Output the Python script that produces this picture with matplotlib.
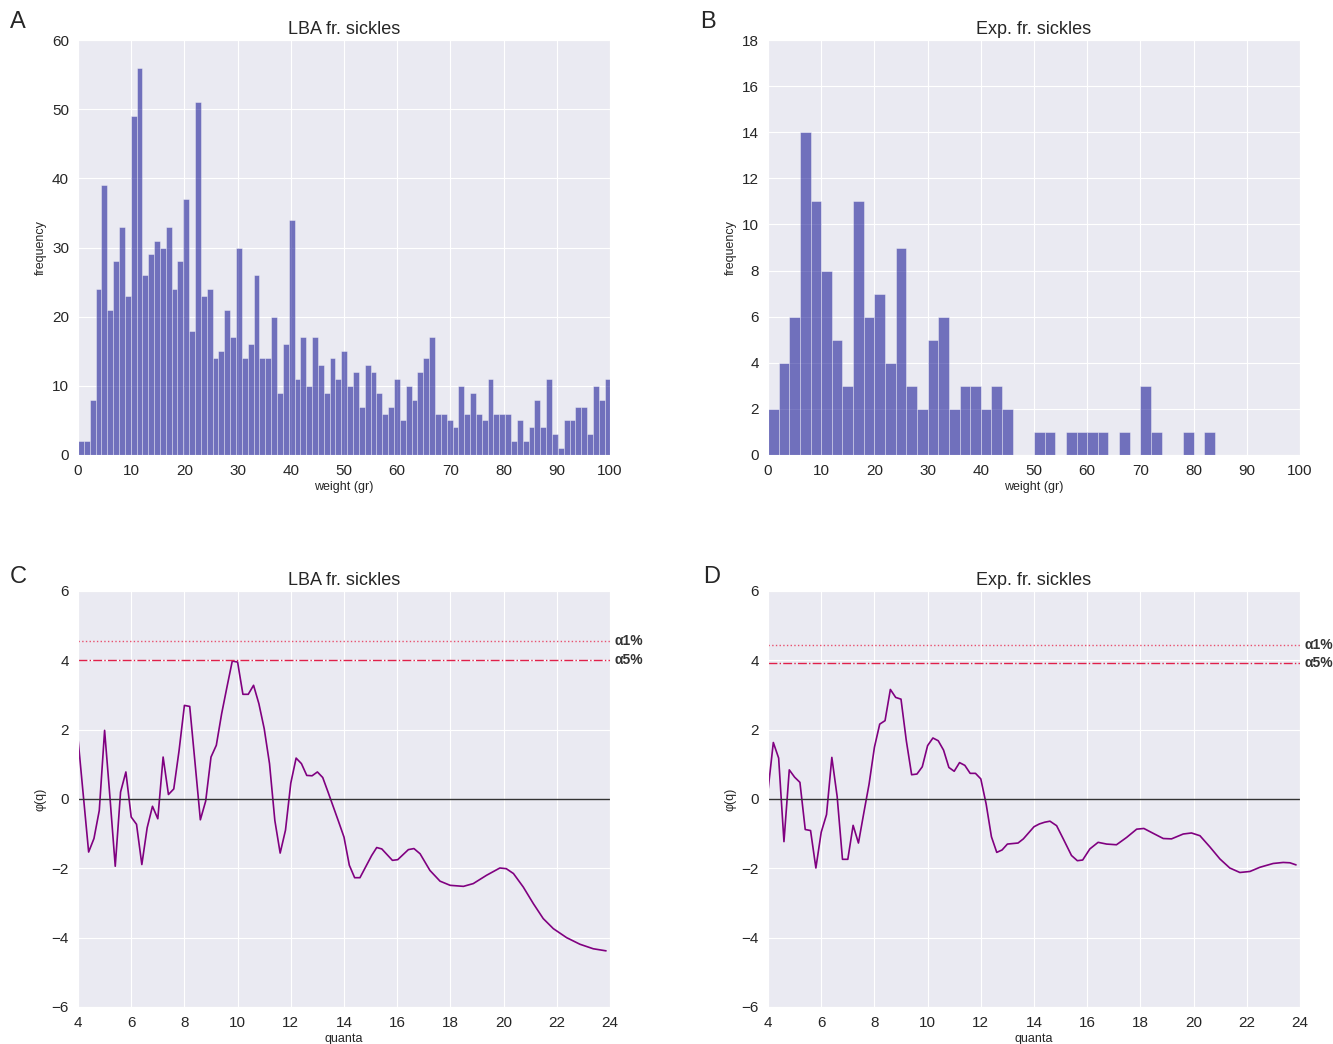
import matplotlib
matplotlib.use('Agg')
import matplotlib.pyplot as plt
import numpy as np
import seaborn as sns

sns.set_style('darkgrid')
plt.rcParams['font.family'] = ['Liberation Sans', 'DejaVu Sans']

# histogram counts, LBA fr. sickles (bin width 1.1 gr, starting at 0)
lba_bin_width = 1.1
lba_counts = [2, 2, 8, 24, 39, 21, 28, 33, 23, 49, 56, 26, 29, 31, 30, 33, 24, 28, 37, 18,
              51, 23, 24, 14, 15, 21, 17, 30, 14, 16, 26, 14, 14, 20, 9, 16, 34, 11, 17, 10,
              17, 13, 9, 14, 11, 15, 10, 12, 7, 13, 12, 9, 6, 7, 11, 5, 10, 8, 12, 14,
              17, 6, 6, 5, 4, 10, 6, 9, 6, 5, 11, 6, 6, 6, 2, 5, 2, 4, 8, 4,
              11, 3, 1, 5, 5, 7, 7, 3, 10, 8, 11]

# histogram counts, experimental fr. sickles (bin width 2 gr)
exp_bin_width = 2
exp_counts = [2, 4, 6, 14, 11, 8, 5, 3, 11, 6, 7, 4, 9, 3, 2, 5, 6, 2, 3, 3,
              2, 3, 2, 0, 0, 1, 1, 0, 1, 1, 1, 1, 0, 1, 0, 3, 1, 0, 0, 1, 0, 1]

# quantum analysis, LBA
lba_q = [4.0, 4.2, 4.4, 4.6, 4.8, 5.0, 5.2, 5.4, 5.6, 5.8, 6.0, 6.2, 6.4, 6.6, 6.8, 7.0,
         7.2, 7.4, 7.6, 7.8, 8.0, 8.2, 8.4, 8.6, 8.8, 9.0, 9.2, 9.4, 9.6, 9.8, 10.0, 10.2,
         10.4, 10.6, 10.8, 11.0, 11.2, 11.4, 11.6, 11.8, 12.0, 12.2, 12.4, 12.6, 12.8, 13.0,
         13.2, 13.4, 13.6, 13.8, 14.0, 14.2, 14.4, 14.6, 15.04, 15.23, 15.42, 15.82, 16.02,
         16.42, 16.63, 16.86, 17.23, 17.61, 17.99, 18.49, 18.86, 19.36, 19.86, 20.1, 20.37,
         20.74, 21.12, 21.49, 21.87, 22.37, 22.87, 23.37, 23.85]
lba_phi = [1.74, 0.1, -1.53, -1.14, -0.33, 1.98, 0.06, -1.94, 0.2, 0.78, -0.52, -0.73,
           -1.89, -0.83, -0.21, -0.57, 1.21, 0.13, 0.29, 1.40, 2.70, 2.67, 1.04, -0.6,
           -0.06, 1.21, 1.55, 2.46, 3.23, 3.98, 3.95, 3.02, 3.02, 3.28, 2.75, 2.03, 1.02,
           -0.62, -1.56, -0.9, 0.46, 1.18, 1.02, 0.68, 0.67, 0.78, 0.62, 0.2, -0.23, -0.66,
           -1.1, -1.91, -2.27, -2.27, -1.63, -1.40, -1.44, -1.77, -1.75, -1.46, -1.43, -1.58,
           -2.06, -2.37, -2.49, -2.52, -2.44, -2.2, -1.99, -2.01, -2.15, -2.54, -3.02, -3.45,
           -3.74, -4.0, -4.19, -4.32, -4.38]
lba_alpha = {'α1%': 4.57, 'α5%': 4.0}

# quantum analysis, experimental
exp_q = [4.0, 4.2, 4.4, 4.6, 4.8, 5.0, 5.2, 5.4, 5.6, 5.8, 6.0, 6.2, 6.4, 6.6, 6.8, 7.0,
         7.2, 7.4, 7.6, 7.8, 8.0, 8.2, 8.4, 8.6, 8.8, 9.0, 9.2, 9.4, 9.6, 9.8, 10.0, 10.2,
         10.4, 10.6, 10.8, 11.0, 11.2, 11.4, 11.6, 11.8, 12.0, 12.2, 12.4, 12.6, 12.8, 13.0,
         13.4, 13.6, 14.0, 14.2, 14.4, 14.6, 14.85, 15.1, 15.41, 15.63, 15.83, 16.1, 16.41,
         16.73, 17.1, 17.48, 17.86, 18.13, 18.48, 18.86, 19.17, 19.61, 19.92, 20.24, 20.61,
         20.99, 21.36, 21.74, 22.12, 22.49, 22.99, 23.37, 23.62, 23.85]
exp_phi = [0.24, 1.63, 1.18, -1.23, 0.84, 0.63, 0.48, -0.88, -0.91, -1.99, -0.96, -0.45,
           1.2, 0.07, -1.74, -1.74, -0.76, -1.27, -0.41, 0.43, 1.49, 2.16, 2.26, 3.16, 2.93,
           2.88, 1.68, 0.70, 0.72, 0.93, 1.54, 1.76, 1.68, 1.41, 0.91, 0.80, 1.05, 0.97, 0.74,
           0.74, 0.58, -0.14, -1.09, -1.54, -1.47, -1.3, -1.27, -1.15, -0.8, -0.72, -0.67,
           -0.64, -0.77, -1.15, -1.63, -1.78, -1.76, -1.44, -1.25, -1.30, -1.32, -1.11, -0.87,
           -0.85, -0.99, -1.14, -1.15, -1.01, -0.98, -1.06, -1.38, -1.73, -1.99, -2.12, -2.09,
           -1.97, -1.86, -1.83, -1.84, -1.9]
exp_alpha = {'α1%': 4.44, 'α5%': 3.92}

W, H = 1333, 1044
fig = plt.figure(figsize=(W / 100, H / 100), dpi=100)

def box(l, r, t, b):
	return [l / W, 1 - b / H, (r - l) / W, (b - t) / H]

axA = fig.add_axes(box(78, 610, 40, 455))
axB = fig.add_axes(box(768, 1300, 40, 455))
axC = fig.add_axes(box(78, 610, 591, 1007))
axD = fig.add_axes(box(768, 1300, 591, 1007))

def hist_panel(ax, counts, width, title, ymax, ystep):
	left = np.arange(len(counts)) * width
	ax.bar(left, counts, width=width, align='edge', color='darkblue', alpha=0.52,
		edgecolor='white', linewidth=0.5)
	ax.set_xlim(0, 100)
	ax.set_ylim(0, ymax)
	ax.set_xticks(np.arange(0, 101, 10))
	ax.set_yticks(np.arange(0, ymax + 1, ystep))
	ax.set_title(title, fontsize=13, pad=4)
	ax.set_xlabel('weight (gr)', fontsize=9, labelpad=2)
	ax.set_ylabel('frequency', fontsize=9, labelpad=4)
	ax.tick_params(labelsize=11, pad=3)

def quanta_panel(ax, q, phi, alphas, title):
	ax.plot(q, phi, color='purple', lw=1.2)
	ax.axhline(0, color='#333333', lw=1.0)
	styles = {'α1%': (':', '#e8506e'), 'α5%': ('-.', '#e0204a')}
	for name, val in alphas.items():
		ls, col = styles[name]
		ax.axhline(val, color=col, lw=1.0, ls=ls)
		ax.text(1.008, val, name, transform=ax.get_yaxis_transform(), fontsize=10,
			fontweight='bold', color='#333333', va='center', ha='left')
	ax.set_xlim(4, 24)
	ax.set_ylim(-6, 6)
	ax.set_xticks(np.arange(4, 25, 2))
	ax.set_yticks(np.arange(-6, 7, 2))
	ax.set_title(title, fontsize=13, pad=4)
	ax.set_xlabel('quanta', fontsize=9, labelpad=2)
	ax.set_ylabel('φ(q)', fontsize=9, labelpad=4)
	ax.tick_params(labelsize=11, pad=3)

hist_panel(axA, lba_counts, lba_bin_width, 'LBA fr. sickles', 60, 10)
hist_panel(axB, exp_counts, exp_bin_width, 'Exp. fr. sickles', 18, 2)
quanta_panel(axC, lba_q, lba_phi, lba_alpha, 'LBA fr. sickles')
quanta_panel(axD, exp_q, exp_phi, exp_alpha, 'Exp. fr. sickles')

for letter, x, y in [('A', 18, 22), ('B', 708, 22), ('C', 18, 577), ('D', 712, 577)]:
	fig.text(x / W, 1 - y / H, letter, fontsize=17, va='center', ha='center')

fig.savefig('out.png', dpi=100, facecolor='white')
